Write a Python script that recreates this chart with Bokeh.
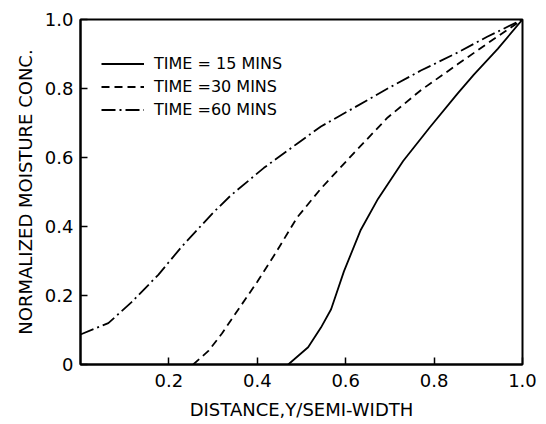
from bokeh.plotting import figure
from bokeh.models import Range1d, FixedTicker, Legend, LegendItem
from bokeh.embed import file_html
from bokeh.resources import INLINE

# Data
x15 = [0.47, 0.515, 0.544, 0.567, 0.596, 0.634, 0.673, 0.73, 0.79, 0.853, 0.89, 0.944, 1.0]
y15 = [0.0, 0.05, 0.107, 0.16, 0.27, 0.39, 0.48, 0.59, 0.687, 0.785, 0.84, 0.915, 1.0]

x30 = [0.255, 0.29, 0.32, 0.36, 0.40, 0.44, 0.49, 0.544, 0.62, 0.695, 0.77, 0.853, 0.92, 1.0]
y30 = [0.0, 0.04, 0.09, 0.165, 0.24, 0.32, 0.426, 0.51, 0.615, 0.716, 0.795, 0.87, 0.93, 1.0]

x60 = [0.0, 0.063, 0.115, 0.176, 0.228, 0.30, 0.34, 0.415, 0.49, 0.544, 0.62, 0.695, 0.77, 0.853, 0.92, 1.0]
y60 = [0.087, 0.12, 0.18, 0.26, 0.34, 0.44, 0.49, 0.57, 0.64, 0.69, 0.745, 0.80, 0.852, 0.904, 0.95, 1.0]

series_labels = ["TIME = 15 MINS", "TIME =30 MINS", "TIME =60 MINS"]
x_ticks = [0.2, 0.4, 0.6, 0.8, 1.0]
y_ticks = [0.0, 0.2, 0.4, 0.6, 0.8, 1.0]
x_tick_labels = {0.2: "0.2", 0.4: "0.4", 0.6: "0.6", 0.8: "0.8", 1.0: "1.0"}
y_tick_labels = {0.0: "0", 0.2: "0.2", 0.4: "0.4", 0.6: "0.6", 0.8: "0.8", 1.0: "1.0"}

FONT = "DejaVu Sans"

p = figure(width=546, height=424, output_backend="svg", toolbar_location=None,
           x_range=Range1d(0, 1.0), y_range=Range1d(0, 1.0),
           min_border_left=80, min_border_right=24, min_border_top=19, min_border_bottom=60)

p.xgrid.visible = False
p.ygrid.visible = False
p.outline_line_color = "black"
p.outline_line_width = 2
p.outline_line_alpha = 1.0
p.background_fill_color = "white"
p.border_fill_color = "white"

for ax in (p.xaxis, p.yaxis):
    ax.axis_line_width = 2
    ax.axis_line_color = "black"
    ax.major_tick_in = 7
    ax.major_tick_out = 0
    ax.major_tick_line_width = 1.5
    ax.major_tick_line_color = "black"
    ax.minor_tick_line_color = None
    ax.major_label_text_font = FONT
    ax.major_label_text_font_size = "18px"
    ax.major_label_text_color = "black"
    ax.axis_label_text_font = FONT
    ax.axis_label_text_font_size = "18px"
    ax.axis_label_text_font_style = "normal"
    ax.axis_label_text_color = "black"

p.xaxis.ticker = FixedTicker(ticks=x_ticks)
p.yaxis.ticker = FixedTicker(ticks=y_ticks)
p.xaxis.major_label_overrides = x_tick_labels
p.yaxis.major_label_overrides = y_tick_labels
p.xaxis.axis_label = "DISTANCE,Y/SEMI-WIDTH"
p.yaxis.axis_label = "NORMALIZED MOISTURE CONC."
p.xaxis.major_label_standoff = 9
p.xaxis.axis_label_standoff = 9
p.yaxis.major_label_standoff = 7
p.yaxis.axis_label_standoff = 6

r15 = p.line(x15, y15, line_color="black", line_width=1.8)
r30 = p.line(x30, y30, line_color="black", line_width=1.8, line_dash="8 5")
r60 = p.line(x60, y60, line_color="black", line_width=1.8, line_dash="14 4 2 4")

legend = Legend(items=[LegendItem(label=series_labels[0], renderers=[r15]),
                       LegendItem(label=series_labels[1], renderers=[r30]),
                       LegendItem(label=series_labels[2], renderers=[r60])],
                location=(21, 243), padding=0, margin=0, spacing=0,
                glyph_width=43, glyph_height=23, label_height=23,
                label_standoff=10,
                label_text_font=FONT, label_text_font_size="16px",
                label_text_color="black",
                border_line_color=None, background_fill_alpha=0)
p.add_layout(legend)

open("out.html", "w").write(file_html(p, INLINE))
